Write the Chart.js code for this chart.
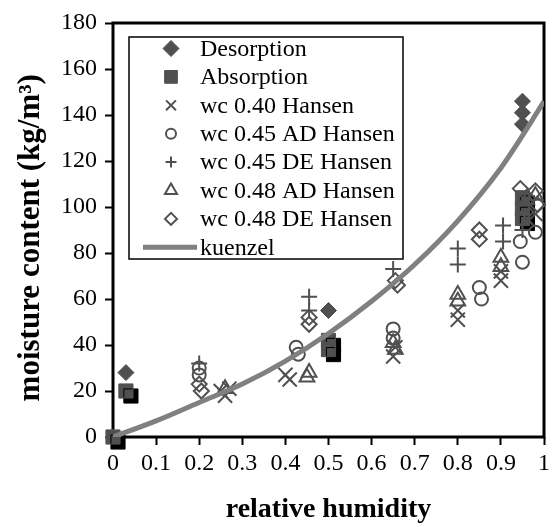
<!DOCTYPE html>
<html>
<head>
<meta charset="utf-8">
<style>
  html, body { margin: 0; padding: 0; background: #fff; overflow: hidden; }
  #wrap { width: 556px; height: 527px; }
</style>
</head>
<body>
<div id="wrap"><canvas id="chart" width="556" height="527"></canvas></div>
<script src="https://cdn.jsdelivr.net/npm/chart.js@4/dist/chart.umd.min.js"></script>
<script>
// Axis ticks
const xTickLabels = ['0', '0.1', '0.2', '0.3', '0.4', '0.5', '0.6', '0.7', '0.8', '0.9', '1'];

// Series: relative humidity (x) and moisture content in kg/m3 (y)
const desorptionX = [0, 0.03, 0.5, 0.95, 0.95, 0.95];
const desorptionY = [0, 28, 55, 146, 141, 136];

const absorptionX = [0, 0.03, 0.5, 0.5, 0.95, 0.95, 0.95];
const absorptionY = [0, 20, 42, 38, 104, 99, 95];

const wc040X = [0.25, 0.26, 0.27, 0.40, 0.41, 0.65, 0.655, 0.80, 0.80, 0.90, 0.90, 0.96, 0.98];
const wc040Y = [20, 18, 21, 27, 25, 35, 39, 51, 55, 68, 72, 95, 97];

const wc045adX = [0.20, 0.20, 0.425, 0.43, 0.65, 0.65, 0.85, 0.855, 0.945, 0.95, 0.98];
const wc045adY = [30, 27, 39, 36, 47, 43, 65, 60, 85, 76, 89];

const wc045deX = [0.20, 0.455, 0.455, 0.65, 0.80, 0.80, 0.905, 0.905, 0.95];
const wc045deY = [32, 61, 55, 73, 82, 75, 92, 85, 90];

const wc048adX = [0.26, 0.45, 0.455, 0.655, 0.65, 0.80, 0.80, 0.90, 0.90, 0.96, 0.98];
const wc048adY = [21, 26, 28, 38, 41, 62, 59, 78, 74, 103, 105];

const wc048deX = [0.20, 0.205, 0.455, 0.455, 0.655, 0.66, 0.85, 0.85, 0.945, 0.98, 0.985];
const wc048deY = [23, 20, 52, 49, 68, 66, 90, 86, 108, 107, 101];

const kuenzelX = [0, 0.1, 0.2, 0.3, 0.4, 0.5, 0.6, 0.7, 0.8, 0.9, 0.95, 1.0];
const kuenzelY = [0, 7, 15, 23, 33, 45, 59, 75, 94, 117, 131, 146];

const markGray = '#505050';
const lineGray = '#808080';
const serif = "'Liberation Serif', 'DejaVu Serif', serif";

function toPoints(xs, ys) {
    return xs.map((x, i) => ({ x: x, y: ys[i] }));
}

function markerSet(label, xs, ys, style, radius, filled, legendRadius, order) {
    return {
        label: label,
        data: toPoints(xs, ys),
        showLine: false,
        pointStyle: style,
        pointRadius: radius,
        pointHoverRadius: radius,
        pointBorderWidth: filled ? 1 : 2,
        pointBorderColor: markGray,
        pointBackgroundColor: filled ? markGray : 'rgba(0,0,0,0)',
        legendRadius: legendRadius,
        clip: { left: 14, top: 0, right: 2, bottom: 14 },
        order: order
    };
}

const datasets = [
    markerSet('Desorption', desorptionX, desorptionY, 'rectRot', 8, true, 8, 8),
    Object.assign(markerSet('Absorption', absorptionX, absorptionY, 'rect', 10, true, 9, 7), { shadow: true }),
    markerSet('wc 0.40 Hansen', wc040X, wc040Y, 'crossRot', 10, false, 7, 6),
    markerSet('wc 0.45 AD Hansen', wc045adX, wc045adY, 'circle', 6.5, false, 5, 5),
    markerSet('wc 0.45 DE Hansen', wc045deX, wc045deY, 'cross', 8, false, 5.5, 4),
    markerSet('wc 0.48 AD Hansen', wc048adX, wc048adY, 'triangle', 8.5, false, 7, 3),
    markerSet('wc 0.48 DE Hansen', wc048deX, wc048deY, 'rectRot', 7.5, false, 6, 2),
    {
        label: 'kuenzel',
        data: toPoints(kuenzelX, kuenzelY),
        showLine: true,
        borderColor: lineGray,
        borderWidth: 5,
        pointRadius: 0,
        cubicInterpolationMode: 'monotone',
        isLine: true,
        order: 1
    }
];

// Black drop shadow behind the absorption squares
const shadowPlugin = {
    id: 'shadow',
    beforeDatasetDraw(chart, args) {
        const ds = chart.data.datasets[args.index];
        if (!ds.shadow) return;
        const ctx = chart.ctx;
        ctx.save();
        ctx.shadowColor = '#000';
        ctx.shadowOffsetX = 5;
        ctx.shadowOffsetY = 5;
        ctx.shadowBlur = 0;
    },
    afterDatasetDraw(chart, args) {
        const ds = chart.data.datasets[args.index];
        if (ds.shadow) chart.ctx.restore();
    }
};

// Box round the plot area
const framePlugin = {
    id: 'frame',
    beforeDatasetsDraw(chart) {
        const { ctx, chartArea } = chart;
        ctx.save();
        ctx.strokeStyle = '#000';
        ctx.lineWidth = 3;
        ctx.strokeRect(chartArea.left, chartArea.top, chartArea.right - chartArea.left, chartArea.bottom - chartArea.top);
        ctx.restore();
    }
};

// Legend drawn in a box inside the plot, like the original
const boxLegendPlugin = {
    id: 'boxLegend',
    afterDraw(chart) {
        const { ctx, chartArea } = chart;
        const left = chartArea.left + 16;
        const top = chartArea.top + 14;
        const width = 274;
        const height = 222;
        const rowGap = 28.4;
        const markX = left + 42;
        const textX = left + 71;

        ctx.save();
        ctx.fillStyle = '#fff';
        ctx.fillRect(left, top, width, height);
        ctx.strokeStyle = '#000';
        ctx.lineWidth = 1.5;
        ctx.strokeRect(left, top, width, height);

        ctx.font = '24px ' + serif;
        ctx.textBaseline = 'middle';
        ctx.textAlign = 'left';

        chart.data.datasets.forEach((ds, i) => {
            const y = top + 11.5 + i * rowGap;
            if (ds.isLine) {
                ctx.strokeStyle = ds.borderColor;
                ctx.lineWidth = ds.borderWidth;
                ctx.beginPath();
                ctx.moveTo(left + 14, y);
                ctx.lineTo(left + 68, y);
                ctx.stroke();
            } else {
                ctx.strokeStyle = ds.pointBorderColor;
                ctx.fillStyle = ds.pointBackgroundColor;
                ctx.lineWidth = ds.pointBorderWidth;
                Chart.helpers.drawPoint(ctx, {
                    pointStyle: ds.pointStyle,
                    radius: ds.legendRadius,
                    borderWidth: ds.pointBorderWidth,
                    rotation: 0
                }, markX, y);
            }
            ctx.fillStyle = '#000';
            ctx.fillText(ds.label, textX, y + 1);
        });
        ctx.restore();
    }
};

const ctx = document.getElementById('chart').getContext('2d');
new Chart(ctx, {
    type: 'scatter',
    data: { datasets: datasets },
    options: {
        responsive: false,
        animation: false,
        events: [],
        layout: { padding: { top: 23, right: 3, left: 0, bottom: 0 } },
        plugins: {
            legend: { display: false },
            tooltip: { enabled: false }
        },
        scales: {
            x: {
                type: 'linear',
                min: 0,
                max: 1,
                ticks: {
                    stepSize: 0.1,
                    autoSkip: false,
                    maxRotation: 0,
                    padding: 4,
                    color: '#000',
                    font: { family: serif, size: 24 },
                    callback: (value, index) => xTickLabels[index]
                },
                grid: { drawOnChartArea: false, drawTicks: true, tickLength: 8, tickWidth: 2, tickColor: '#000' },
                border: { display: false },
                title: {
                    display: true,
                    text: 'relative humidity',
                    color: '#000',
                    font: { family: serif, size: 28, weight: 'bold' },
                    padding: { top: 0, bottom: 0 }
                },
                afterFit(scale) {
                    scale.height = 90;
                    scale.paddingLeft = 0;
                    scale.paddingRight = 0;
                }
            },
            y: {
                min: 0,
                max: 180,
                ticks: {
                    stepSize: 20,
                    padding: 8,
                    color: '#000',
                    font: { family: serif, size: 24 }
                },
                grid: { drawOnChartArea: false, drawTicks: true, tickLength: 8, tickWidth: 2, tickColor: '#000' },
                border: { display: false },
                title: {
                    display: true,
                    // trailing no-break spaces nudge the title down a little, as in the original
                    text: 'moisture content (kg/m³)\u00a0\u00a0',
                    color: '#000',
                    font: { family: serif, size: 31, weight: 'bold' },
                    padding: { top: 12, bottom: 0 }
                },
                afterFit(scale) {
                    scale.width = 113;
                }
            }
        }
    },
    plugins: [shadowPlugin, framePlugin, boxLegendPlugin]
});
</script>
</body>
</html>
